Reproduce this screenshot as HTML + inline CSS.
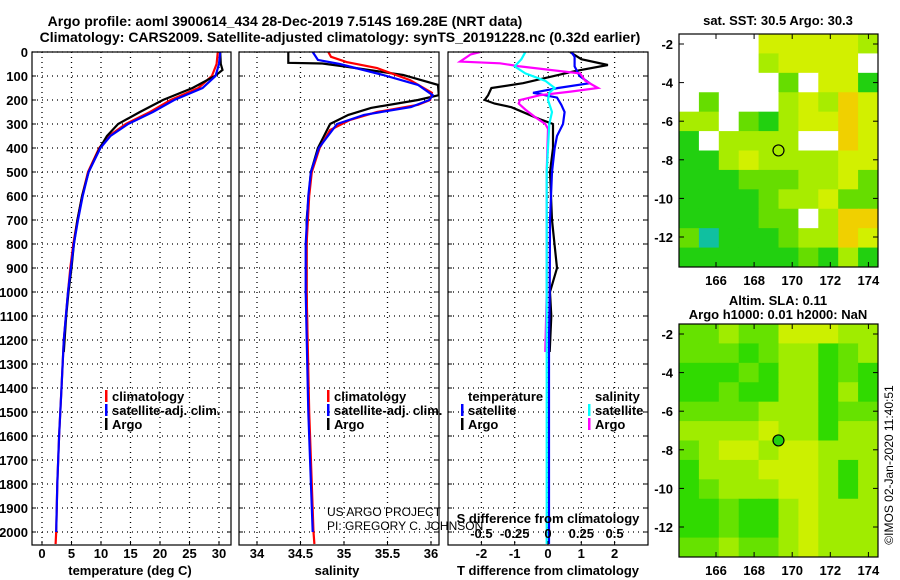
<!DOCTYPE html>
<html><head><meta charset="utf-8"><style>
html,body{margin:0;padding:0;background:#fff;}
svg{display:block;font-family:"Liberation Sans",sans-serif;}
.b{font-weight:bold;font-size:13px;}
.n{font-weight:normal;font-size:12px;}
</style></head><body>
<svg id="svg" width="900" height="580" viewBox="0 0 900 580" xmlns="http://www.w3.org/2000/svg">
<text x="285" y="26" text-anchor="middle" font-weight="bold" font-size="14">Argo profile: aoml 3900614_434 28-Dec-2019 7.514S 169.28E (NRT data)</text>
<text x="340" y="42" text-anchor="middle" font-weight="bold" font-size="14">Climatology: CARS2009. Satellite-adjusted climatology: synTS_20191228.nc (0.32d earlier)</text>
<g id="g"></g>
</svg>
<script>
// ---- data ----
const tClimD=[0,50,100,150,200,250,300,350,400,500,600,700,800,900,1000,1200,1400,1600,1800,2000,2050];
const tClimV=[29.8,29.6,28.8,26.5,21.8,18.3,14.2,11.3,9.7,7.8,6.8,6.0,5.3,4.8,4.4,3.7,3.3,2.9,2.6,2.4,2.3];
const tSatD=[0,50,100,150,200,250,300,350,400,500,600,700,800,900,1000,1200,1400,1600,1800,2000];
const tSatV=[30.2,30.0,29.4,27.2,22.4,18.8,14.6,11.6,9.9,7.9,6.9,6.1,5.4,4.9,4.4,3.7,3.3,2.9,2.6,2.4];
const tArgoD=[0,50,75,100,150,200,250,300,350,400,500,600,700,800,900,1000,1100,1250];
const tArgoV=[30.2,30.3,30.6,29.3,25.5,20.5,16.6,12.9,11.0,9.8,7.9,6.8,6.0,5.4,5.0,4.5,4.1,3.7];
const sClimD=[0,20,42,67,117,170,200,220,250,283,325,400,500,600,800,1000,1500,2000,2050];
const sClimV=[34.82,34.85,35.03,35.38,35.76,36.01,35.99,35.85,35.38,35.07,34.84,34.72,34.63,34.60,34.57,34.57,34.60,34.65,34.66];
const sSatD=[0,33,50,96,137,180,200,229,262,300,400,500,600,800,1000,1500,2000];
const sSatV=[34.64,34.70,34.95,35.45,35.85,36.02,35.98,35.77,35.23,34.92,34.71,34.62,34.59,34.56,34.56,34.59,34.64];
const sArgoD=[0,45,48,60,96,137,180,200,233,262,300,400,500,700,1000,1250];
const sArgoV=[34.36,34.36,34.75,35.0,35.68,36.08,36.09,35.85,35.31,35.05,34.84,34.70,34.62,34.57,34.57,34.58];
const dtSatD=[0,20,60,100,130,150,170,190,220,250,300,350,400,500,700,1000,1200,2050];
const dtSatV=[0.7,0.8,0.8,0.95,1.25,0.3,-0.45,0.27,0.4,0.5,0.45,0.27,0.2,0.12,0.06,0.05,0.03,0.03];
const dtArgoD=[0,30,54,80,130,150,180,200,215,230,280,300,400,500,700,900,1000,1100,1250];
const dtArgoV=[0.66,1.0,1.8,0.8,-0.75,-1.7,-1.8,-1.9,-1.6,-1.1,-0.25,0.15,0.15,0.06,0.12,0.27,0.06,0.1,0.05];
const dsSatD=[0,30,60,89,120,150,170,200,250,300,400,500,1000,2050];
const dsSatV=[-0.17,-0.2,-0.25,-0.17,-0.02,0.05,0.01,0.0,0.03,0.01,0.0,-0.01,-0.01,-0.01];
const dsArgoD=[0,10,40,47,60,89,120,150,165,180,200,215,240,270,300,320,500,1000,1250];
const dsArgoV=[-0.51,-0.58,-0.66,-0.36,-0.21,0.24,0.28,0.375,0.17,-0.06,-0.21,-0.22,-0.17,-0.1,-0.02,0.0,-0.01,-0.01,-0.02];
const depthTicks=[0,100,200,300,400,500,600,700,800,900,1000,1100,1200,1300,1400,1500,1600,1700,1800,1900,2000];
const tTicks=[0,5,10,15,20,25,30];
const sTicks=[34,34.5,35,35.5,36];
const dtTicks=[-2,-1,0,1,2];
const dsTicks=[-0.5,-0.25,0,0.25,0.5];
const lonTicks=[166,168,170,172,174];
const latTicks=[-2,-4,-6,-8,-10,-12];
const sstGrid=["....YYYYYy","....yYYYY.",".....g.YYG",".g...yYyOY","yy.gGyYYOY","G.yyyy..OY","GGyYyyyyYY","GGGgggyyYg","GGGGgyyYgg","GGGGgg.yOO","gCGGGgyyOY","GGGGGGgGyG"];
const slaGrid=["ggyggYYYyy","gggGgyyGgy","GGGgGyyGgG","GGgGGyyGyG","ggggyyyGgg","yyyyYyyGyy","gyYYyYYyyy","GyyyYYYyGy","GgyyyYYyGy","GGgGGyYyyy","GGgGGyYyyy","ggyggyYyyy"];
const profLon=169.28, profLat=-7.514;

// ---- helpers ----
const NS="http://www.w3.org/2000/svg";
const G=document.getElementById('g');
function mk(tag,attrs,parent){const e=document.createElementNS(NS,tag);for(const k in attrs)e.setAttribute(k,attrs[k]);(parent||G).appendChild(e);return e;}
const Y0=52,Y1=545;
const yD=d=>Y0+0.24*d;
const xT=v=>42+5.9*v;
const xS=v=>257+87*(v-34);
const xDT=v=>548+33.3*v;
const xDS=v=>548+133.2*v;
const panels=[[32,231],[239,439],[448,648]];

panels.forEach((p,i)=>{const c=mk('clipPath',{id:'c'+i});mk('rect',{x:p[0],y:Y0,width:p[1]-p[0],height:Y1-Y0},c);});

function vgrid(xs,p){xs.forEach(x=>{const l=mk('line',{x1:x,x2:x,y1:Y0,y2:Y1,stroke:'#000','stroke-dasharray':'1,4','stroke-width':1.3});});}
panels.forEach(p=>{depthTicks.forEach(d=>{const l=mk('line',{x1:p[0],x2:p[1],y1:yD(d),y2:yD(d),stroke:'#000','stroke-dasharray':'1,4','stroke-width':1.3});});});
vgrid(tTicks.map(xT));vgrid(sTicks.map(xS));vgrid(dtTicks.map(xDT));

function line(D,V,fx,col,ci,name){const pts=D.map((d,i)=>fx(V[i]).toFixed(1)+','+yD(d).toFixed(1)).join(' ');
 const e=mk('polyline',{points:pts,fill:'none',stroke:col,'stroke-width':2.2,'clip-path':'url(#c'+ci+')'});
 }
line(tClimD,tClimV,xT,'#f00',0,'temp-climatology-line');
line(tArgoD,tArgoV,xT,'#000',0,'temp-argo-line');
line(tSatD,tSatV,xT,'#00f',0,'temp-satellite-line');
line(sArgoD,sArgoV,xS,'#000',1,'sal-argo-line');
line(sClimD,sClimV,xS,'#f00',1,'sal-climatology-line');
line(sSatD,sSatV,xS,'#00f',1,'sal-satellite-line');
line(dtArgoD,dtArgoV,xDT,'#000',2,'tdiff-argo-line');
line(dtSatD,dtSatV,xDT,'#00f',2,'tdiff-satellite-line');
line(dsArgoD,dsArgoV,xDS,'#f0f',2,'sdiff-argo-line');
line(dsSatD,dsSatV,xDS,'#0ff',2,'sdiff-satellite-line');

panels.forEach((p,i)=>{const r=mk('rect',{x:p[0],y:Y0,width:p[1]-p[0],height:Y1-Y0,fill:'none',stroke:'#000','stroke-width':1.2});
 depthTicks.forEach(d=>{mk('line',{x1:p[0],x2:p[0]+4,y1:yD(d),y2:yD(d),stroke:'#000'});mk('line',{x1:p[1]-4,x2:p[1],y1:yD(d),y2:yD(d),stroke:'#000'});});});
function txt(x,y,s,anchor,cls,name,extra){const t=mk('text',Object.assign({x:x,y:y,'text-anchor':anchor||'middle',class:cls||'b'},extra||{}));t.textContent=s;return t;}
depthTicks.forEach(d=>txt(28,yD(d)+5,String(d),'end','b','depth-tick-label'));
tTicks.forEach(v=>{txt(xT(v),558,String(v),'middle','b','temp-tick-label');mk('line',{x1:xT(v),x2:xT(v),y1:Y1-4,y2:Y1,stroke:'#000'});});
sTicks.forEach(v=>{txt(xS(v),558,String(v),'middle','b','sal-tick-label');mk('line',{x1:xS(v),x2:xS(v),y1:Y1-4,y2:Y1,stroke:'#000'});});
dtTicks.forEach(v=>{txt(xDT(v),558,String(v),'middle','b','tdiff-tick-label');mk('line',{x1:xDT(v),x2:xDT(v),y1:Y1-4,y2:Y1,stroke:'#000'});});
dsTicks.forEach(v=>txt(xDS(v),538,String(v),'middle','b','sdiff-tick-label'));
txt(130,575,'temperature (deg C)','middle','b','temp-axis-title');
txt(337,575,'salinity','middle','b','sal-axis-title');
txt(548,575,'T difference from climatology','middle','b','tdiff-axis-title');
txt(548,523,'S difference from climatology','middle','b','sdiff-axis-title');
txt(327,516,'US ARGO PROJECT','start','n','credit-project',{'font-weight':'normal'});
txt(327,530,'PI: GREGORY C. JOHNSON','start','n','credit-pi',{'font-weight':'normal'});

function leg(x,y,col,label,name){mk('rect',{x:x,y:y-11,width:2.5,height:12,fill:col});txt(x+7,y,label,'start','b',name);}
leg(105,401,'#f00','climatology','legend-climatology');leg(105,415,'#00f','satellite-adj. clim.','legend-satellite');leg(105,429,'#000','Argo','legend-argo');
leg(327,401,'#f00','climatology','legend-climatology-2');leg(327,415,'#00f','satellite-adj. clim.','legend-satellite-2');leg(327,429,'#000','Argo','legend-argo-2');
txt(468,401,'temperature','start','b','legend-temperature-heading');txt(595,401,'salinity','start','b','legend-salinity-heading');
leg(461,415,'#00f','satellite','legend-t-satellite');leg(461,429,'#000','Argo','legend-t-argo');
leg(588,415,'#0ff','satellite','legend-s-satellite');leg(588,429,'#f0f','Argo','legend-s-argo');

const COL={'.':'#fff','G':'#22d010','g':'#66dd00','y':'#a8ec00','Y':'#d2f000','O':'#f0d000','C':'#10c0a0'};
const COL2={'G':'#30da00','g':'#66e200','y':'#a0ec00','Y':'#ccf000'};
function map(top,grid,cols,title1,title2,name,circFill){
 const L=679,R=878,T=top,B=top+233;
 const xl=v=>716+(v-166)*19.05, yl=v=>T+10+(-2-v)*19.3;
 const cw=(R-L)/10,ch=(B-T)/12;
 grid.forEach((row,r)=>{[...row].forEach((c,k)=>{const e=mk('rect',{x:L+k*cw,y:T+r*ch,width:cw+0.5,height:ch+0.5,fill:cols[c]});});});
 const f=mk('rect',{x:L,y:T,width:R-L,height:B-T,fill:'none',stroke:'#000','stroke-width':1.2});
 lonTicks.forEach(v=>{mk('line',{x1:xl(v),x2:xl(v),y1:T,y2:T+5,stroke:'#000'});mk('line',{x1:xl(v),x2:xl(v),y1:B-5,y2:B,stroke:'#000'});txt(xl(v),B+18,String(v),'middle','b',name+'-lon-label');});
 latTicks.forEach(v=>{mk('line',{x1:L,x2:L+5,y1:yl(v),y2:yl(v),stroke:'#000'});mk('line',{x1:R-5,x2:R,y1:yl(v),y2:yl(v),stroke:'#000'});txt(L-6,yl(v)+5,String(v),'end','b',name+'-lat-label');});
 const c=mk('circle',{cx:xl(profLon),cy:yl(profLat),r:5.5,fill:circFill,stroke:'#000','stroke-width':1.2});
 if(title2){txt(778,top-19,title1,'middle','b',name+'-title');txt(778,top-5,title2,'middle','b',name+'-subtitle');}else txt(778,top-9,title1,'middle','b',name+'-title');
}
map(34,sstGrid,COL,'sat. SST: 30.5 Argo: 30.3',null,'sst-map','none');
map(324,slaGrid,COL2,'Altim. SLA: 0.11','Argo h1000: 0.01 h2000: NaN','sla-map','#22d010');
txt(0,0,'©IMOS 02-Jan-2020 11:40:51','middle','n','imos-stamp',{'font-weight':'normal',transform:'translate(893,465) rotate(-90)'});
</script>
</body></html>
